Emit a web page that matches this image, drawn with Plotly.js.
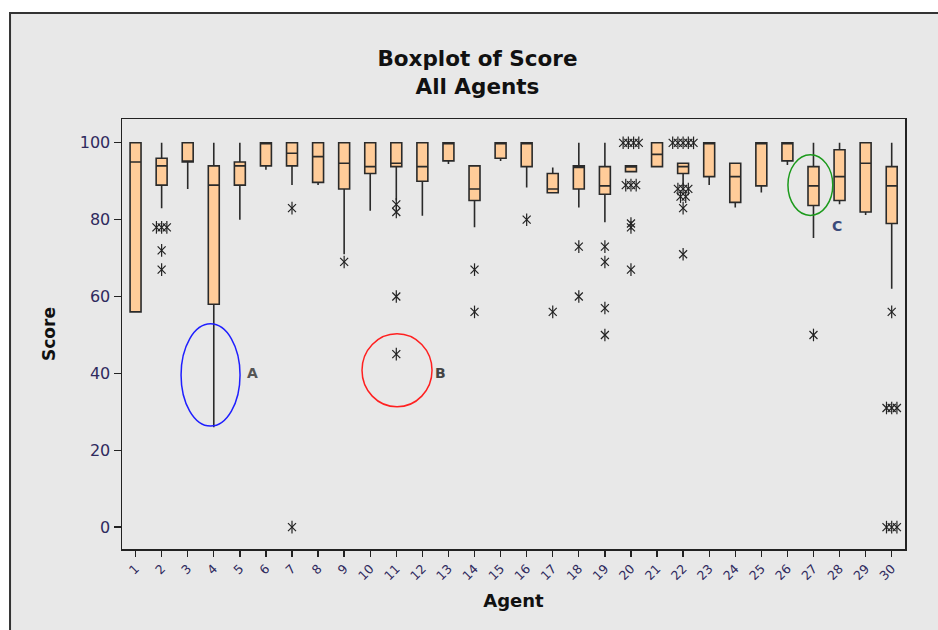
<!DOCTYPE html>
<html><head><meta charset="utf-8">
<script src="https://cdn.plot.ly/plotly-3.0.1.min.js"></script>
<style>html,body{margin:0;padding:0;background:#fff}</style>
</head><body><div id="chart" style="width:938px;height:630px"></div>
<script>
// ---- data ----
const agents = [1,2,3,4,5,6,7,8,9,10,11,12,13,14,15,16,17,18,19,20,21,22,23,24,25,26,27,28,29,30];
const tickLabels = agents.map(String);
const q1     = [56, 89, 95, 58, 89, 94, 94, 89.7, 88, 92, 93.8, 90, 95.3, 85, 96, 93.8, 87, 88, 86.6, 92.5, 93.8, 92, 91.2, 84.5, 88.8, 95.3, 83.7, 85, 82, 79];
const median = [95, 94, 95, 89, 94, 100, 97.3, 96.4, 94.7, 93.8, 94.7, 93.8, 100, 88, 100, 100, 88, 93.6, 88.8, 93.8, 97, 93.8, 100, 91.2, 100, 100, 88.8, 91.2, 94.7, 88.8];
const q3     = [100, 96, 100, 94, 95, 100, 100, 100, 100, 100, 100, 100, 100, 94, 100, 100, 92, 94, 93.8, 94, 100, 94.7, 100, 94.7, 100, 100, 93.8, 98.2, 100, 93.8];
const lowerWhisker = [56, 83, 88, 26, 80, 93, 89, 89, 71, 82.3, 85, 81, 94.5, 78, 95.3, 88.4, 87, 83.2, 79.3, 92.5, 93.8, 88.6, 89, 83.2, 87.1, 94.2, 75.2, 84, 81.2, 62];
const upperWhisker = [100, 100, 100, 100, 100, 100, 100, 100, 100, 100, 100, 100, 100, 94, 100, 100, 93.6, 100, 100, 94, 100, 94.7, 100, 94.7, 100, 100, 100, 100, 100, 100];

// outliers (agent, score), ties listed once per observation
const outAgent = [
  2, 2, 2, 2, 2,
  7, 7,
  9,
  11, 11, 11, 11,
  14, 14,
  16,
  17,
  18, 18,
  19, 19, 19, 19,
  20, 20, 20, 20, 20, 20, 20, 20, 20, 20,
  22, 22, 22, 22, 22, 22, 22, 22, 22, 22, 22, 22,
  27,
  30, 30, 30, 30, 30, 30, 30
];
const outScore = [
  78, 78, 78, 72, 67,
  83, 0,
  69,
  84, 82, 60, 45,
  67, 56,
  80,
  56,
  73, 60,
  73, 69, 57, 50,
  100, 100, 100, 100, 89, 89, 89, 79, 78, 67,
  100, 100, 100, 100, 100, 88, 88, 88, 86, 86, 83, 71,
  50,
  56, 31, 31, 31, 0, 0, 0
];

// ---- jitter for tied outliers (Minitab style) ----
const keyCount = {}, keyIdx = {};
outAgent.forEach((a,i)=>{const k=a+'_'+outScore[i]; keyCount[k]=(keyCount[k]||0)+1;});
const outX = outAgent.map((a,i)=>{
  const k=a+'_'+outScore[i]; const n=keyCount[k]; const j=keyIdx[k]||0; keyIdx[k]=j+1;
  return a + (j-(n-1)/2)*0.2;
});

const boxTrace = {
  type:'box', x:agents, q1:q1, median:median, q3:q3,
  lowerfence:lowerWhisker, upperfence:upperWhisker,
  width:0.42, boxpoints:false, whiskerwidth:0,
  fillcolor:'#FFCC99', line:{color:'#2a2a2a', width:1.6},
  hoverinfo:'skip', showlegend:false
};
const starA = {type:'scatter', mode:'markers', x:outX, y:outScore, showlegend:false, hoverinfo:'skip',
  marker:{symbol:'x-thin-open', size:8, color:'#222', line:{color:'#222', width:1.2}}};
const starB = {type:'scatter', mode:'markers', x:outX, y:outScore, showlegend:false, hoverinfo:'skip',
  marker:{symbol:'line-ns-open', size:9, color:'#222', line:{color:'#222', width:1.2}}};

const tickFont = {family:'DejaVu Sans, sans-serif', size:16, color:'#2f2a5e'};
const layout = {
  width:938, height:630,
  margin:{l:122, r:33, t:119, b:81},
  paper_bgcolor:'#ffffff', plot_bgcolor:'#ffffff',
  font:{family:'DejaVu Sans, sans-serif', color:'#111'},
  title:{text:'<b>Boxplot of Score</b><br><b>All Agents</b>', x:0.509, xanchor:'center',
         yref:'container', y:1-66/630, yanchor:'middle',
         font:{family:'DejaVu Sans, sans-serif', size:21.5, color:'#111'}},
  xaxis:{range:[0.48,30.51], tickmode:'array', tickvals:agents, ticktext:tickLabels,
         tickangle:-45, ticks:'outside', ticklen:6, tickcolor:'#222', tickwidth:1.3,
         showline:true, linecolor:'#222', linewidth:1.5, mirror:true,
         showgrid:false, zeroline:false,
         tickfont:{family:'DejaVu Sans, sans-serif', size:12.5, color:'#2f2a5e'},
         title:{text:'<b>Agent</b>', standoff:12, font:{family:'DejaVu Sans, sans-serif', size:18, color:'#111'}}},
  yaxis:{range:[-5.7,106.2], tickvals:[0,20,40,60,80,100], ticks:'outside', ticklen:7,
         tickcolor:'#222', tickwidth:1.3, showline:true, linecolor:'#222', linewidth:1.5, mirror:true,
         showgrid:false, zeroline:false, tickfont:tickFont,
         title:{text:'<b>Score</b>', standoff:20, font:{family:'DejaVu Sans, sans-serif', size:17, color:'#111'}}},
  shapes:[
    {type:'rect', xref:'paper', yref:'paper', x0:-0.143, x1:1.08, y0:-0.3, y1:1.2465,
     fillcolor:'#e8e8e8', line:{color:'#333', width:2}, layer:'below'},
    {type:'circle', xref:'x', yref:'y', x0:2.745, x1:5.007, y0:26.3, y1:52.9, line:{color:'#1f1fff', width:1.5}},
    {type:'circle', xref:'x', yref:'y', x0:9.685, x1:12.37, y0:31.3, y1:50.3, line:{color:'#ff2020', width:1.5}},
    {type:'circle', xref:'x', yref:'y', x0:26.02, x1:27.74, y0:81.1, y1:96.9, line:{color:'#1c9a1c', width:1.5}}
  ],
  annotations:[
    {x:5.5, y:40, xref:'x', yref:'y', text:'<b>A</b>', showarrow:false, font:{size:14, color:'#555'}},
    {x:12.7, y:40, xref:'x', yref:'y', text:'<b>B</b>', showarrow:false, font:{size:14, color:'#444'}},
    {x:27.9, y:78.4, xref:'x', yref:'y', text:'<b>C</b>', showarrow:false, font:{size:14, color:'#3a4a7a'}}
  ]
};
Plotly.newPlot('chart', [boxTrace, starA, starB], layout, {staticPlot:true});
</script></body></html>
